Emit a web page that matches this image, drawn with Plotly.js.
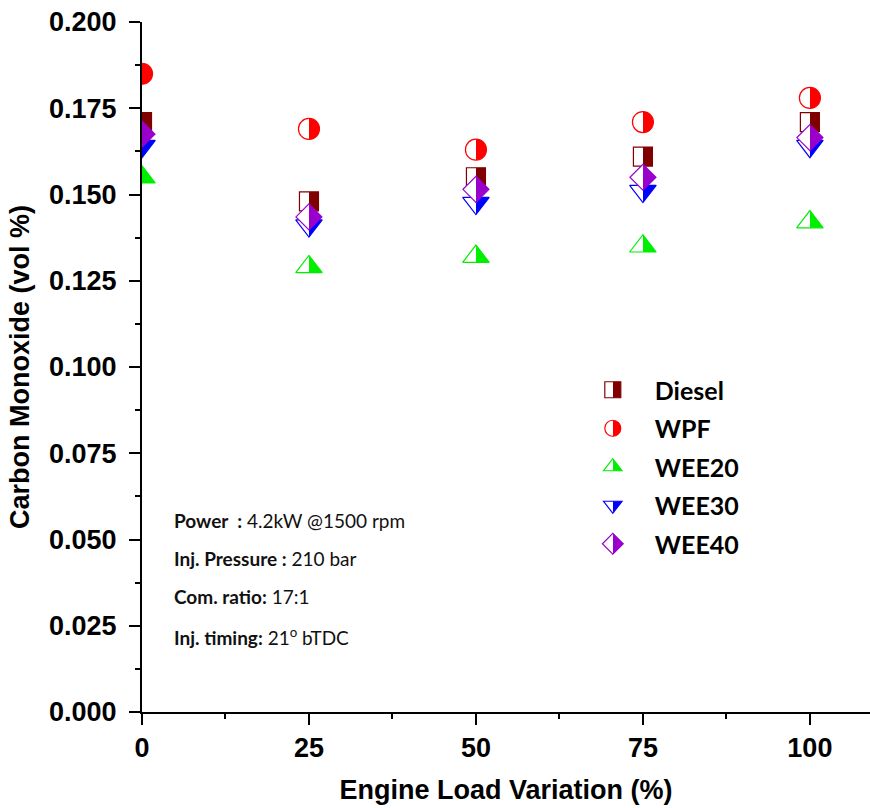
<!DOCTYPE html>
<html>
<head>
<meta charset="utf-8">
<script src="https://cdn.plot.ly/plotly-3.0.1.min.js"></script>
<style>html,body{margin:0;padding:0;background:#fff;}#chart{width:870px;height:808px;}</style>
</head>
<body>
<div id="chart"></div>
<script>
// ---- data ----
const loads = [0, 25, 50, 75, 100];
const diesel = [0.171, 0.148, 0.155, 0.161, 0.171];
const wpf    = [0.185, 0.169, 0.163, 0.171, 0.178];
const wee20  = [0.155, 0.129, 0.132, 0.135, 0.142];
const wee30  = [0.164, 0.141, 0.1475, 0.151, 0.164];
const wee40  = [0.1675, 0.1435, 0.1515, 0.155, 0.1665];
const seriesNames = ['Diesel', 'WPF', 'WEE20', 'WEE30', 'WEE40'];
const xTickVals = [0, 25, 50, 75, 100];
const yTickVals = [0, 0.025, 0.05, 0.075, 0.1, 0.125, 0.15, 0.175, 0.2];
const infoLines = [
  '<b>Power  :</b> 4.2kW @1500 rpm',
  '<b>Inj. Pressure :</b> 210 bar',
  '<b>Com. ratio:</b> 17:1',
  '<b>Inj. timing:</b> 21<sup>o</sup> bTDC'
];

const styles = [
  {symbol: 'square', color: '#800000', size: 19},
  {symbol: 'circle', color: '#FF0000', size: 21},
  {symbol: 'triangle-up', color: '#00EE00', size: 23},
  {symbol: 'triangle-down', color: '#0000FF', size: 23},
  {symbol: 'diamond', color: '#9A00CC', size: 20}
];
const allY = [diesel, wpf, wee20, wee30, wee40];

const traces = allY.map((ys, i) => ({
  type: 'scatter', mode: 'markers', x: loads, y: ys, name: seriesNames[i],
  legendgroup: 'g' + i, cliponaxis: true,
  marker: {
    symbol: styles[i].symbol, size: styles[i].size, color: '#ffffff',
    gradient: {type: 'horizontal', color: styles[i].color},
    line: {color: styles[i].color, width: 1.2}
  }
}));

const axFont = {family: '"Liberation Sans", Arial, sans-serif', size: 27, color: '#000', weight: 700};
const txtFont = {family: 'Lato, "Open Sans", sans-serif', size: 19, color: '#111'};

const layout = {
  width: 870, height: 808,
  margin: {l: 142, r: 0, t: 22, b: 96},
  paper_bgcolor: '#ffffff', plot_bgcolor: '#ffffff',
  showlegend: true,
  legend: {
    x: 0.589, y: 0.5, xanchor: 'left', yanchor: 'top',
    font: {family: 'Lato, "Open Sans", sans-serif', size: 25, color: '#000', weight: 700},
    bgcolor: 'rgba(0,0,0,0)', borderwidth: 0, tracegroupgap: 3, itemwidth: 74
  },
  xaxis: {
    range: [0, 109], tickvals: xTickVals, ticktext: xTickVals.map(String),
    showgrid: false, zeroline: false, showline: true, linecolor: '#000', linewidth: 2,
    ticks: 'outside', ticklen: 11, tickwidth: 2, tickcolor: '#000',
    minor: {dtick: 12.5, tick0: 0, ticks: 'outside', ticklen: 5, tickwidth: 2, tickcolor: '#000'},
    tickfont: axFont,
    title: {text: 'Engine Load Variation (%)', font: axFont, standoff: 18}
  },
  yaxis: {
    range: [0, 0.2], tickvals: yTickVals, ticktext: yTickVals.map(v => v.toFixed(3)),
    showgrid: false, zeroline: false, showline: true, linecolor: '#000', linewidth: 2,
    ticks: 'outside', ticklen: 11, tickwidth: 2, tickcolor: '#000', ticklabelstandoff: 7,
    minor: {dtick: 0.0125, tick0: 0, ticks: 'outside', ticklen: 5, tickwidth: 2, tickcolor: '#000'},
    tickfont: axFont,
    title: {text: 'Carbon Monoxide (vol %)', font: axFont, standoff: 12}
  },
  annotations: infoLines.map((t, i) => ({
    text: t, xref: 'paper', yref: 'paper', x: 0.041, y: [0.277, 0.223, 0.167, 0.110][i],
    xanchor: 'left', yanchor: 'middle', showarrow: false, font: txtFont, align: 'left'
  }))
};

function halfFill(gd) {
  gd.querySelectorAll('linearGradient stop').forEach(s => s.setAttribute('offset', '50%'));
}
const gd = document.getElementById('chart');
Plotly.newPlot(gd, traces, layout, {staticPlot: true, displayModeBar: false}).then(() => {
  halfFill(gd);
  gd.on && gd.on('plotly_afterplot', () => halfFill(gd));
});
</script>
</body>
</html>
